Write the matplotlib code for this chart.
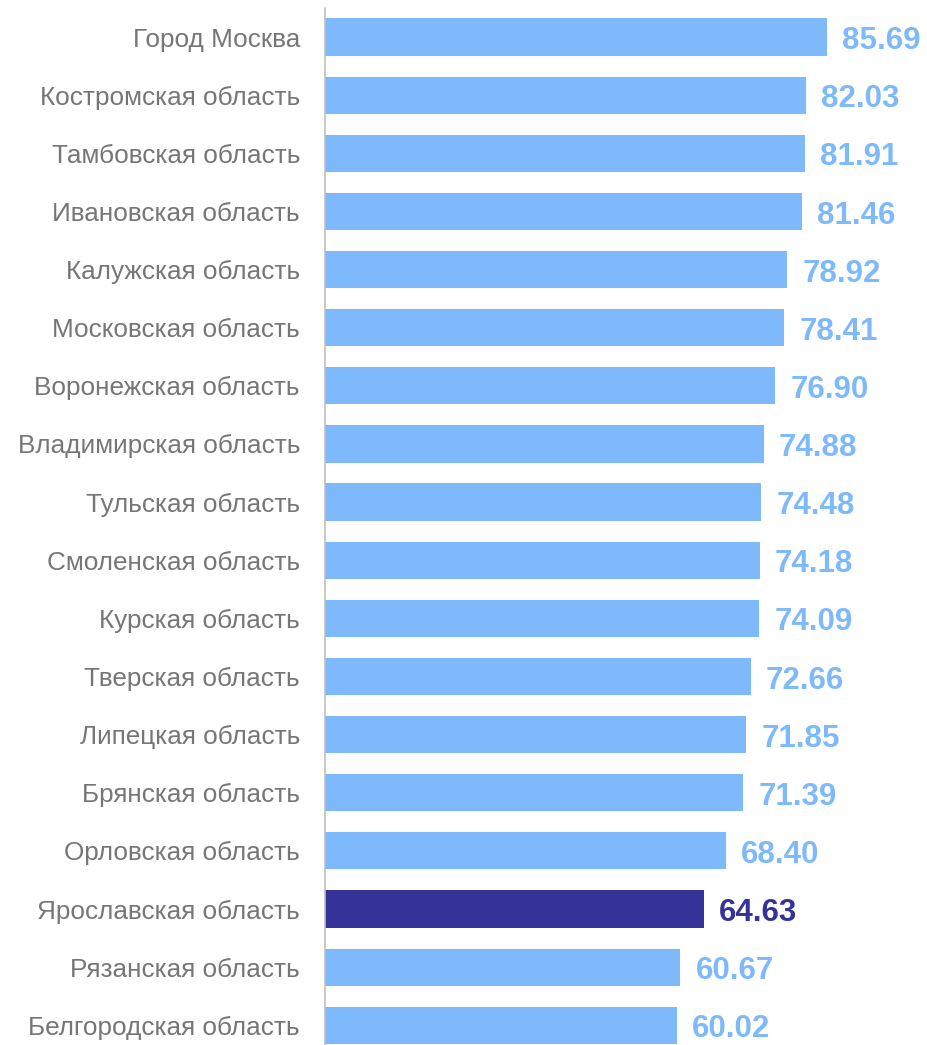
import matplotlib.pyplot as plt

regions = ["Город Москва", "Костромская область", "Тамбовская область", "Ивановская область",
           "Калужская область", "Московская область", "Воронежская область", "Владимирская область",
           "Тульская область", "Смоленская область", "Курская область", "Тверская область",
           "Липецкая область", "Брянская область", "Орловская область", "Ярославская область",
           "Рязанская область", "Белгородская область"]
values = [85.69, 82.03, 81.91, 81.46, 78.92, 78.41, 76.90, 74.88, 74.48, 74.18,
          74.09, 72.66, 71.85, 71.39, 68.40, 64.63, 60.67, 60.02]
highlight = "Ярославская область"

light = "#7EBAFB"
dark = "#353399"

plt.rcParams['font.family'] = ['Liberation Sans', 'DejaVu Sans']

fig = plt.figure(figsize=(9.27, 10.45), dpi=100)
ax = fig.add_axes([325 / 927, 0, 1 - 325 / 927, 1 - 8 / 1045])

colors = [dark if r == highlight else light for r in regions]
y = range(len(regions))
ax.barh(y, values, height=0.64, color=colors)

# value labels right of each bar
for i, v in enumerate(values):
    ax.text(v + 2.6, i + 0.07, f"{v:.2f}", va="center", ha="left", fontsize=22.5,
            fontweight="bold", color=colors[i])

ax.set_yticks(list(y))
ax.set_yticklabels(regions, fontsize=18.8, color="#767676")
for lab in ax.get_yticklabels():
    lab.set_va("center_baseline")
ax.tick_params(axis="y", length=0, pad=18)
ax.set_xticks([])
ax.set_xlim(0, (927 - 325) / 5.858)
ax.set_ylim(len(regions) - 1 + 0.34, -0.5)

for s in ["top", "right", "bottom"]:
    ax.spines[s].set_visible(False)
ax.spines["left"].set_color("#BFBFBF")
ax.spines["left"].set_linewidth(1.2)

fig.savefig("out.png", dpi=100)
